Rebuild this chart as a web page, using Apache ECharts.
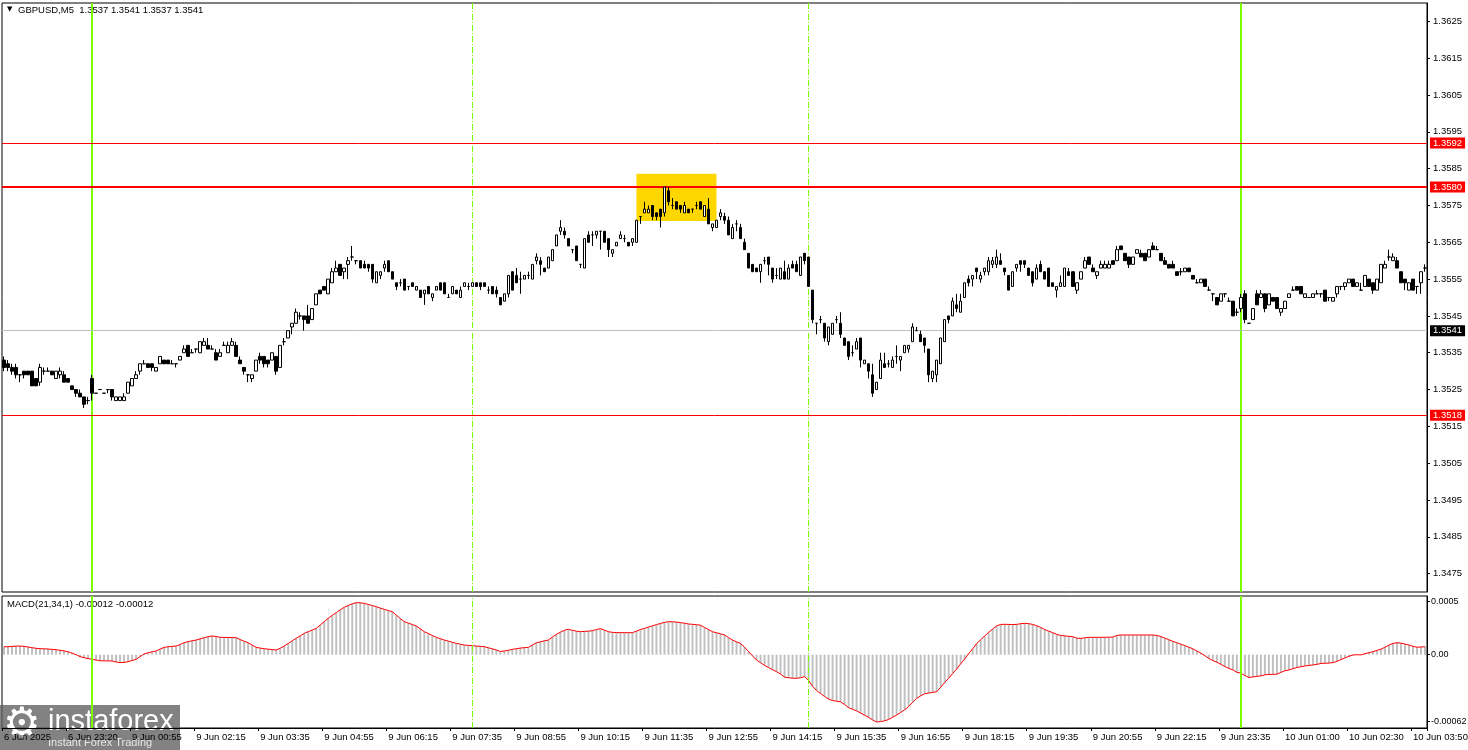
<!DOCTYPE html>
<html><head><meta charset="utf-8">
<script src="https://cdn.jsdelivr.net/npm/echarts@6/dist/echarts.min.js"></script>
<style>html,body{margin:0;padding:0;background:#fff;}#c{width:1468px;height:750px;}</style>
</head><body><div id="c"></div>
<script>
// GBPUSD M5 candles: [open, close, low, high]
const ohlc = [
[1.3533,1.3531,1.3530,1.3534],[1.3532,1.3531,1.3530,1.3533],[1.3531,1.3530,1.3529,1.3532],[1.3531,1.3529,1.3528,1.3532],[1.3529,1.3529,1.3527,1.3529],[1.3530,1.3529,1.3528,1.3530],[1.3530,1.3529,1.3529,1.3530],[1.3530,1.3526,1.3526,1.3530],[1.3528,1.3526,1.3526,1.3528],[1.3527,1.3531,1.3526,1.3532],
[1.3530,1.3530,1.3529,1.3531],[1.3530,1.3530,1.3530,1.3531],[1.3530,1.3529,1.3529,1.3530],[1.3528,1.3530,1.3528,1.3530],[1.3529,1.3530,1.3528,1.3531],[1.3529,1.3527,1.3527,1.3530],[1.3528,1.3527,1.3527,1.3528],[1.3526,1.3525,1.3525,1.3526],[1.3525,1.3524,1.3523,1.3525],[1.3524,1.3523,1.3523,1.3525],
[1.3523,1.3521,1.3520,1.3523],[1.3522,1.3522,1.3521,1.3523],[1.3528,1.3524,1.3522,1.3529],[1.3524,1.3524,1.3524,1.3524],[1.3525,1.3525,1.3525,1.3525],[1.3524,1.3524,1.3524,1.3524],[1.3525,1.3525,1.3524,1.3525],[1.3525,1.3523,1.3522,1.3525],[1.3522,1.3523,1.3522,1.3523],[1.3522,1.3523,1.3522,1.3523],
[1.3522,1.3523,1.3522,1.3524],[1.3524,1.3527,1.3524,1.3527],[1.3526,1.3528,1.3526,1.3528],[1.3528,1.3529,1.3528,1.3530],[1.3530,1.3532,1.3529,1.3532],[1.3532,1.3532,1.3532,1.3533],[1.3532,1.3531,1.3531,1.3532],[1.3532,1.3531,1.3530,1.3532],[1.3530,1.3531,1.3530,1.3531],[1.3532,1.3534,1.3532,1.3534],
[1.3533,1.3532,1.3532,1.3533],[1.3533,1.3532,1.3532,1.3533],[1.3532,1.3532,1.3532,1.3533],[1.3532,1.3532,1.3531,1.3532],[1.3533,1.3534,1.3533,1.3534],[1.3535,1.3536,1.3535,1.3537],[1.3537,1.3534,1.3534,1.3537],[1.3535,1.3535,1.3535,1.3536],[1.3536,1.3536,1.3535,1.3536],[1.3535,1.3538,1.3535,1.3538],
[1.3537,1.3538,1.3537,1.3539],[1.3537,1.3536,1.3536,1.3539],[1.3536,1.3536,1.3536,1.3537],[1.3535,1.3533,1.3533,1.3536],[1.3534,1.3535,1.3534,1.3536],[1.3537,1.3537,1.3537,1.3538],[1.3535,1.3537,1.3535,1.3538],[1.3537,1.3538,1.3537,1.3539],[1.3537,1.3534,1.3534,1.3538],[1.3533,1.3532,1.3532,1.3534],
[1.3531,1.3530,1.3529,1.3531],[1.3529,1.3529,1.3527,1.3529],[1.3528,1.3529,1.3527,1.3529],[1.3530,1.3533,1.3530,1.3533],[1.3534,1.3533,1.3532,1.3535],[1.3534,1.3532,1.3531,1.3534],[1.3533,1.3532,1.3531,1.3533],[1.3533,1.3535,1.3533,1.3535],[1.3534,1.3530,1.3529,1.3534],[1.3531,1.3537,1.3531,1.3537],
[1.3538,1.3538,1.3537,1.3539],[1.3539,1.3541,1.3539,1.3541],[1.3542,1.3543,1.3540,1.3543],[1.3543,1.3546,1.3543,1.3547],[1.3545,1.3545,1.3544,1.3546],[1.3545,1.3544,1.3541,1.3545],[1.3545,1.3543,1.3543,1.3548],[1.3544,1.3547,1.3544,1.3547],[1.3548,1.3551,1.3548,1.3551],[1.3552,1.3551,1.3551,1.3552],
[1.3553,1.3552,1.3552,1.3553],[1.3551,1.3555,1.3551,1.3555],[1.3554,1.3557,1.3554,1.3558],[1.3557,1.3558,1.3557,1.3560],[1.3559,1.3556,1.3556,1.3559],[1.3557,1.3558,1.3555,1.3558],[1.3559,1.3560,1.3555,1.3561],[1.3561,1.3561,1.3560,1.3564],[1.3560,1.3560,1.3559,1.3560],[1.3560,1.3558,1.3558,1.3560],
[1.3559,1.3558,1.3558,1.3560],[1.3559,1.3558,1.3557,1.3559],[1.3559,1.3555,1.3554,1.3559],[1.3554,1.3557,1.3554,1.3557],[1.3556,1.3557,1.3555,1.3557],[1.3558,1.3559,1.3557,1.3560],[1.3560,1.3557,1.3557,1.3560],[1.3557,1.3555,1.3555,1.3557],[1.3554,1.3553,1.3552,1.3554],[1.3554,1.3554,1.3553,1.3555],
[1.3555,1.3552,1.3552,1.3555],[1.3553,1.3553,1.3552,1.3553],[1.3554,1.3553,1.3553,1.3554],[1.3552,1.3553,1.3552,1.3553],[1.3552,1.3550,1.3550,1.3552],[1.3551,1.3552,1.3548,1.3552],[1.3553,1.3551,1.3551,1.3553],[1.3550,1.3551,1.3549,1.3551],[1.3552,1.3553,1.3552,1.3553],[1.3554,1.3552,1.3552,1.3554],
[1.3554,1.3551,1.3551,1.3554],[1.3550,1.3550,1.3550,1.3551],[1.3551,1.3553,1.3551,1.3553],[1.3552,1.3551,1.3551,1.3552],[1.3550,1.3552,1.3550,1.3553],[1.3553,1.3554,1.3553,1.3554],[1.3553,1.3553,1.3552,1.3554],[1.3553,1.3554,1.3553,1.3554],[1.3554,1.3553,1.3553,1.3554],[1.3554,1.3553,1.3552,1.3554],
[1.3554,1.3553,1.3553,1.3554],[1.3552,1.3552,1.3551,1.3553],[1.3553,1.3551,1.3551,1.3553],[1.3552,1.3551,1.3550,1.3553],[1.3550,1.3548,1.3548,1.3550],[1.3549,1.3551,1.3549,1.3551],[1.3551,1.3556,1.3550,1.3556],[1.3557,1.3552,1.3552,1.3557],[1.3556,1.3554,1.3554,1.3558],[1.3555,1.3555,1.3551,1.3557],
[1.3555,1.3556,1.3555,1.3556],[1.3556,1.3556,1.3555,1.3557],[1.3555,1.3559,1.3555,1.3559],[1.3560,1.3561,1.3559,1.3562],[1.3560,1.3559,1.3556,1.3561],[1.3558,1.3557,1.3557,1.3558],[1.3558,1.3561,1.3558,1.3561],[1.3560,1.3563,1.3560,1.3563],[1.3564,1.3567,1.3564,1.3567],[1.3568,1.3569,1.3567,1.3571],
[1.3568,1.3567,1.3566,1.3569],[1.3566,1.3564,1.3564,1.3566],[1.3563,1.3563,1.3562,1.3563],[1.3564,1.3560,1.3560,1.3564],[1.3559,1.3559,1.3558,1.3559],[1.3558,1.3566,1.3558,1.3566],[1.3567,1.3565,1.3565,1.3568],[1.3567,1.3567,1.3564,1.3568],[1.3567,1.3568,1.3566,1.3568],[1.3568,1.3568,1.3563,1.3568],
[1.3568,1.3565,1.3565,1.3568],[1.3566,1.3563,1.3561,1.3566],[1.3562,1.3563,1.3561,1.3563],[1.3564,1.3565,1.3564,1.3565],[1.3566,1.3567,1.3566,1.3568],[1.3566,1.3566,1.3565,1.3567],[1.3565,1.3564,1.3564,1.3565],[1.3565,1.3566,1.3564,1.3566],[1.3565,1.3571,1.3565,1.3571],[1.3572,1.3572,1.3570,1.3572],
[1.3573,1.3574,1.3573,1.3576],[1.3573,1.3574,1.3573,1.3575],[1.3575,1.3572,1.3571,1.3575],[1.3573,1.3572,1.3571,1.3573],[1.3574,1.3572,1.3569,1.3574],[1.3573,1.3580,1.3572,1.3580],[1.3579,1.3576,1.3575,1.3580],[1.3575,1.3575,1.3574,1.3577],[1.3576,1.3574,1.3574,1.3576],[1.3575,1.3574,1.3573,1.3575],
[1.3573,1.3575,1.3573,1.3576],[1.3574,1.3573,1.3573,1.3574],[1.3574,1.3574,1.3573,1.3574],[1.3575,1.3575,1.3574,1.3576],[1.3576,1.3574,1.3574,1.3576],[1.3572,1.3575,1.3572,1.3575],[1.3574,1.3570,1.3570,1.3577],[1.3569,1.3570,1.3568,1.3570],[1.3569,1.3571,1.3569,1.3571],[1.3572,1.3573,1.3571,1.3574],
[1.3572,1.3571,1.3570,1.3573],[1.3571,1.3567,1.3567,1.3572],[1.3566,1.3569,1.3566,1.3570],[1.3570,1.3570,1.3568,1.3571],[1.3569,1.3566,1.3566,1.3570],[1.3565,1.3563,1.3563,1.3566],[1.3562,1.3558,1.3558,1.3562],[1.3559,1.3557,1.3557,1.3559],[1.3558,1.3557,1.3557,1.3558],[1.3557,1.3559,1.3554,1.3559],
[1.3560,1.3560,1.3559,1.3561],[1.3561,1.3559,1.3556,1.3561],[1.3558,1.3555,1.3554,1.3558],[1.3556,1.3556,1.3555,1.3558],[1.3555,1.3558,1.3555,1.3558],[1.3557,1.3555,1.3555,1.3560],[1.3555,1.3558,1.3555,1.3559],[1.3559,1.3558,1.3558,1.3560],[1.3559,1.3557,1.3557,1.3560],[1.3556,1.3561,1.3556,1.3561],
[1.3562,1.3560,1.3559,1.3562],[1.3561,1.3553,1.3553,1.3561],[1.3552,1.3544,1.3543,1.3552],[1.3543,1.3543,1.3540,1.3543],[1.3544,1.3544,1.3543,1.3545],[1.3543,1.3539,1.3538,1.3543],[1.3538,1.3542,1.3537,1.3542],[1.3540,1.3543,1.3540,1.3543],[1.3544,1.3544,1.3543,1.3545],[1.3543,1.3540,1.3539,1.3546],
[1.3539,1.3537,1.3537,1.3539],[1.3538,1.3534,1.3533,1.3538],[1.3535,1.3535,1.3534,1.3537],[1.3536,1.3538,1.3536,1.3539],[1.3539,1.3533,1.3531,1.3539],[1.3532,1.3533,1.3532,1.3533],[1.3532,1.3530,1.3528,1.3532],[1.3529,1.3524,1.3523,1.3532],[1.3525,1.3527,1.3525,1.3527],[1.3528,1.3533,1.3528,1.3535],
[1.3532,1.3531,1.3531,1.3535],[1.3532,1.3532,1.3531,1.3533],[1.3531,1.3533,1.3531,1.3534],[1.3534,1.3534,1.3532,1.3537],[1.3533,1.3534,1.3530,1.3534],[1.3535,1.3537,1.3535,1.3537],[1.3536,1.3537,1.3535,1.3537],[1.3538,1.3542,1.3538,1.3543],[1.3541,1.3541,1.3541,1.3542],[1.3540,1.3538,1.3538,1.3541],
[1.3539,1.3537,1.3535,1.3539],[1.3536,1.3529,1.3527,1.3536],[1.3528,1.3530,1.3527,1.3530],[1.3529,1.3533,1.3527,1.3533],[1.3532,1.3539,1.3532,1.3539],[1.3538,1.3544,1.3538,1.3544],[1.3545,1.3544,1.3543,1.3545],[1.3545,1.3549,1.3545,1.3550],[1.3548,1.3547,1.3546,1.3551],[1.3546,1.3549,1.3546,1.3551],
[1.3550,1.3554,1.3550,1.3554],[1.3555,1.3554,1.3553,1.3556],[1.3555,1.3556,1.3553,1.3556],[1.3558,1.3557,1.3555,1.3558],[1.3555,1.3556,1.3554,1.3557],[1.3557,1.3558,1.3556,1.3558],[1.3557,1.3560,1.3556,1.3561],[1.3559,1.3560,1.3558,1.3561],[1.3559,1.3561,1.3558,1.3563],[1.3560,1.3559,1.3559,1.3562],
[1.3558,1.3557,1.3556,1.3558],[1.3556,1.3552,1.3552,1.3556],[1.3553,1.3557,1.3553,1.3557],[1.3558,1.3559,1.3557,1.3559],[1.3560,1.3559,1.3557,1.3560],[1.3560,1.3559,1.3558,1.3560],[1.3558,1.3556,1.3556,1.3558],[1.3557,1.3554,1.3553,1.3557],[1.3555,1.3558,1.3555,1.3559],[1.3559,1.3557,1.3557,1.3560],
[1.3557,1.3555,1.3555,1.3557],[1.3558,1.3553,1.3553,1.3558],[1.3554,1.3553,1.3553,1.3554],[1.3552,1.3553,1.3550,1.3553],[1.3553,1.3554,1.3553,1.3556],[1.3553,1.3558,1.3553,1.3558],[1.3557,1.3556,1.3556,1.3558],[1.3557,1.3553,1.3553,1.3557],[1.3552,1.3554,1.3551,1.3554],[1.3555,1.3557,1.3555,1.3557],
[1.3558,1.3560,1.3558,1.3561],[1.3561,1.3559,1.3559,1.3561],[1.3558,1.3557,1.3557,1.3559],[1.3556,1.3557,1.3555,1.3557],[1.3558,1.3559,1.3558,1.3560],[1.3558,1.3559,1.3558,1.3560],[1.3558,1.3559,1.3558,1.3560],[1.3560,1.3559,1.3559,1.3560],[1.3560,1.3563,1.3560,1.3564],[1.3564,1.3563,1.3563,1.3564],
[1.3562,1.3560,1.3560,1.3562],[1.3561,1.3559,1.3558,1.3561],[1.3559,1.3561,1.3559,1.3561],[1.3562,1.3563,1.3562,1.3563],[1.3562,1.3561,1.3561,1.3563],[1.3562,1.3560,1.3560,1.3562],[1.3561,1.3563,1.3561,1.3563],[1.3564,1.3563,1.3563,1.3565],[1.3563,1.3563,1.3563,1.3564],[1.3562,1.3560,1.3560,1.3562],
[1.3560,1.3559,1.3559,1.3561],[1.3559,1.3558,1.3558,1.3559],[1.3559,1.3558,1.3558,1.3560],[1.3557,1.3556,1.3556,1.3557],[1.3557,1.3557,1.3556,1.3558],[1.3557,1.3558,1.3557,1.3558],[1.3558,1.3557,1.3557,1.3558],[1.3556,1.3555,1.3555,1.3556],[1.3554,1.3554,1.3554,1.3555],[1.3554,1.3555,1.3554,1.3555],
[1.3555,1.3553,1.3553,1.3555],[1.3552,1.3552,1.3552,1.3553],[1.3551,1.3551,1.3549,1.3551],[1.3550,1.3548,1.3548,1.3550],[1.3549,1.3551,1.3549,1.3551],[1.3551,1.3551,1.3550,1.3551],[1.3549,1.3549,1.3549,1.3550],[1.3549,1.3545,1.3545,1.3549],[1.3546,1.3546,1.3545,1.3547],[1.3547,1.3550,1.3546,1.3551],
[1.3551,1.3544,1.3543,1.3552],[1.3543,1.3543,1.3543,1.3543],[1.3544,1.3547,1.3544,1.3547],[1.3551,1.3548,1.3548,1.3552],[1.3550,1.3551,1.3550,1.3552],[1.3551,1.3547,1.3546,1.3551],[1.3548,1.3551,1.3548,1.3551],[1.3550,1.3549,1.3549,1.3550],[1.3550,1.3547,1.3547,1.3550],[1.3546,1.3547,1.3545,1.3547],
[1.3547,1.3549,1.3547,1.3549],[1.3550,1.3551,1.3550,1.3551],[1.3552,1.3552,1.3552,1.3553],[1.3553,1.3552,1.3552,1.3553],[1.3553,1.3551,1.3551,1.3553],[1.3550,1.3551,1.3550,1.3551],[1.3550,1.3550,1.3550,1.3550],[1.3550,1.3551,1.3550,1.3551],[1.3551,1.3551,1.3551,1.3552],[1.3551,1.3551,1.3550,1.3551],
[1.3552,1.3549,1.3549,1.3552],[1.3550,1.3550,1.3549,1.3550],[1.3549,1.3550,1.3549,1.3550],[1.3551,1.3553,1.3550,1.3553],[1.3553,1.3553,1.3552,1.3553],[1.3553,1.3554,1.3552,1.3554],[1.3554,1.3555,1.3554,1.3555],[1.3555,1.3553,1.3553,1.3555],[1.3553,1.3554,1.3553,1.3554],[1.3552,1.3552,1.3552,1.3554],
[1.3553,1.3556,1.3553,1.3556],[1.3555,1.3553,1.3553,1.3555],[1.3554,1.3552,1.3551,1.3554],[1.3552,1.3555,1.3552,1.3555],[1.3554,1.3559,1.3554,1.3559],[1.3558,1.3559,1.3558,1.3560],[1.3561,1.3561,1.3560,1.3563],[1.3560,1.3561,1.3560,1.3562],[1.3560,1.3558,1.3558,1.3561],[1.3557,1.3554,1.3554,1.3557],
[1.3555,1.3554,1.3552,1.3555],[1.3552,1.3554,1.3552,1.3554],[1.3555,1.3552,1.3552,1.3555],[1.3553,1.3553,1.3551,1.3553],[1.3554,1.3557,1.3551,1.3557],[1.3558,1.3558,1.3557,1.3559]
];
// MACD(21,34,1) histogram / signal values per bar
const macd = [
0.000075,0.000074,0.000078,0.00008,0.000081,0.000078,0.000072,0.000065,0.00006,0.000056,
0.000055,0.000053,0.00005,0.000046,0.000042,0.000035,0.000028,0.000015,0.0,-0.000018,
-0.000028,-0.000036,-0.000043,-0.00005,-0.000056,-0.000057,-0.000058,-0.000059,-0.000068,-0.000074,
-0.000072,-0.000065,-0.000055,-0.000043,-0.000018,0.000007,0.000018,0.000027,0.000035,0.000052,
0.000069,0.000074,0.000078,0.000081,0.000095,0.000112,0.000122,0.00013,0.000137,0.000148,
0.000159,0.000168,0.000175,0.00017,0.000162,0.000162,0.000161,0.00016,0.000159,0.000142,
0.000125,0.000112,0.00009,0.000069,0.000062,0.000056,0.000052,0.000048,0.000044,0.00006,
0.000081,0.000105,0.00013,0.000153,0.000176,0.000199,0.000215,0.00023,0.000246,0.000278,
0.000309,0.00034,0.000368,0.000393,0.00042,0.000443,0.00046,0.000475,0.000486,0.000485,
0.00048,0.00047,0.00046,0.000449,0.000436,0.000424,0.000413,0.000402,0.00037,0.000338,
0.000309,0.000295,0.000282,0.000268,0.000242,0.000215,0.000198,0.00018,0.000162,0.00015,
0.000137,0.000127,0.000116,0.000106,0.000098,0.00009,0.000087,0.000084,0.000081,0.000078,
0.000075,0.000065,0.000055,0.000044,0.00003,0.000035,0.000042,0.00005,0.000056,0.000062,
0.000066,0.000069,0.00009,0.000112,0.00012,0.00013,0.000137,0.000165,0.00019,0.00021,
0.000228,0.000237,0.000228,0.00022,0.000215,0.000218,0.00022,0.000224,0.000235,0.000243,
0.00023,0.000215,0.000209,0.000207,0.000206,0.000206,0.000206,0.000206,0.00022,0.000235,
0.000246,0.000258,0.00027,0.000281,0.000292,0.000302,0.000309,0.000307,0.000305,0.0003,
0.000294,0.000287,0.000284,0.00028,0.000276,0.000255,0.000235,0.000215,0.000205,0.000195,
0.000185,0.00016,0.000137,0.00012,0.000105,0.00007,0.00003,-0.00001,-0.00005,-0.000075,
-0.0001,-0.00012,-0.00014,-0.000159,-0.00018,-0.00021,-0.000215,-0.00022,-0.000221,-0.000215,
-0.000205,-0.00024,-0.000295,-0.000335,-0.000362,-0.00039,-0.000415,-0.000428,-0.000435,-0.00044,
-0.000465,-0.000495,-0.00051,-0.000525,-0.000545,-0.000565,-0.000585,-0.00061,-0.000629,-0.000625,
-0.000618,-0.000605,-0.000585,-0.000564,-0.00054,-0.000515,-0.000485,-0.000445,-0.000408,-0.000385,
-0.000365,-0.000358,-0.000352,-0.000346,-0.000305,-0.00026,-0.00022,-0.000175,-0.000134,-0.000085,
-0.00004,0.00001,0.000055,0.000105,0.00014,0.000175,0.00021,0.00024,0.00027,0.000283,
0.000284,0.000283,0.000282,0.000283,0.00029,0.000293,0.00029,0.000283,0.00027,0.000255,
0.000235,0.00022,0.000206,0.00019,0.00018,0.000176,0.000172,0.000168,0.000155,0.000152,
0.000158,0.000162,0.000162,0.000162,0.000162,0.000163,0.000163,0.000165,0.00018,0.000184,
0.000184,0.000184,0.000184,0.000184,0.000184,0.000184,0.000184,0.000184,0.00018,0.00017,
0.000155,0.00014,0.000125,0.000112,0.000098,0.000085,0.00007,0.000055,0.000035,0.000015,
-0.00001,-0.000035,-0.000055,-0.00007,-0.00009,-0.00011,-0.000128,-0.000142,-0.000165,-0.000172,
-0.000195,-0.000212,-0.000208,-0.000202,-0.000198,-0.000188,-0.000184,-0.000184,-0.000182,-0.000165,
-0.00015,-0.000143,-0.00013,-0.00012,-0.000112,-0.000105,-0.0001,-0.000096,-0.00009,-0.000082,
-0.00008,-0.000078,-0.000074,-0.000062,-0.000045,-0.00003,-0.000015,-0.000003,0.0,-0.000002,
0.00001,0.000019,0.000028,0.00004,0.000052,0.00007,0.00009,0.000105,0.000112,0.000108,
0.0001,0.00009,0.000078,0.00007,0.000072,0.000075
];
const tickIdx = [0,16,32,48,64,80,96,112,128,144,160,176,192,208,224,240,256,272,288,304,320,336,352];
const tickText = ['6 Jun 2025','6 Jun 23:20','9 Jun 00:55','9 Jun 02:15','9 Jun 03:35','9 Jun 04:55','9 Jun 06:15','9 Jun 07:35','9 Jun 08:55','9 Jun 10:15','9 Jun 11:35','9 Jun 12:55','9 Jun 14:15','9 Jun 15:35','9 Jun 16:55','9 Jun 18:15','9 Jun 19:35','9 Jun 20:55','9 Jun 22:15','9 Jun 23:35','10 Jun 01:00','10 Jun 02:30','10 Jun 03:50'];
const priceTicks = [1.3475,1.3485,1.3495,1.3505,1.3515,1.3525,1.3535,1.3545,1.3555,1.3565,1.3575,1.3585,1.3595,1.3605,1.3615,1.3625];
const macdTicks = [0.0005, 0, -0.00062];
const macdTickText = ['0.0005', '0.00', '-0.00062'];
const redLevels = [1.3592, 1.3580, 1.3518];
const redWidths = [1, 2, 1];
const bidPrice = 1.3541;
const solidVLines = [22, 309];
const dashedVLines = [117, 201];
const zoneBars = [158, 178];
const zonePrices = [1.35836, 1.35708];
const header = 'GBPUSD,M5  1.3537 1.3541 1.3537 1.3541';
const macdTitle = 'MACD(21,34,1) -0.00012 -0.00012';

const FONT = '"Liberation Sans", Arial, sans-serif';
const FS = 9.5;
const cats = ohlc.map((_, i) => i);
const isTick = (i) => tickIdx.indexOf(i) >= 0;

const levelLines = redLevels.map((v, k) => ({
  yAxis: v,
  lineStyle: { color: '#ff0000', width: redWidths[k], type: 'solid' },
  label: { show: true, position: 'end', formatter: v.toFixed(4), color: '#fff', backgroundColor: '#ff0000',
           padding: [1, 3, 0, 3], fontSize: FS, fontFamily: FONT, distance: 3 }
}));
levelLines.push({
  yAxis: bidPrice,
  lineStyle: { color: '#c0c0c0', width: 1, type: 'solid' },
  label: { show: true, position: 'end', formatter: bidPrice.toFixed(4), color: '#fff', backgroundColor: '#000',
           padding: [1, 3, 0, 3], fontSize: FS, fontFamily: FONT, distance: 3 }
});
const vLines = solidVLines.map(i => ({ xAxis: i, lineStyle: { color: '#7cfc00', width: 2, type: 'solid' }, label: { show: false } }))
  .concat(dashedVLines.map(i => ({ xAxis: i, lineStyle: { color: '#7cfc00', width: 1, type: [6, 2, 1, 2] }, label: { show: false } })));

const chart = echarts.init(document.getElementById('c'), null, { renderer: 'canvas' });
chart.setOption({
  animation: false,
  backgroundColor: '#ffffff',
  textStyle: { fontFamily: FONT },
  grid: [
    { left: 2, top: 3, width: 1425, height: 589, show: true, borderColor: '#000', borderWidth: 1, backgroundColor: 'transparent', containLabel: false, outerBoundsMode: 'none' },
    { left: 2, top: 596, width: 1425, height: 132, show: true, borderColor: '#000', borderWidth: 1, backgroundColor: 'transparent', containLabel: false, outerBoundsMode: 'none' }
  ],
  xAxis: [
    { type: 'category', gridIndex: 0, data: cats, boundaryGap: true,
      axisLine: { show: false }, axisTick: { show: false }, axisLabel: { show: false }, splitLine: { show: false } },
    { type: 'category', gridIndex: 1, data: cats, boundaryGap: true,
      axisLine: { show: true, onZero: false, lineStyle: { color: '#000' } },
      axisTick: { show: true, interval: (i) => isTick(i), length: 3, lineStyle: { color: '#000' } },
      axisLabel: { show: true, interval: (i) => isTick(i), formatter: (v, i) => tickText[tickIdx.indexOf(Number(v))] || '',
                   align: 'left', margin: 4, color: '#000', fontSize: FS, fontFamily: FONT, hideOverlap: false },
      splitLine: { show: false } }
  ],
  yAxis: [
    { type: 'value', gridIndex: 0, position: 'right', min: 1.3470, max: 1.3630, scale: true,
      axisLine: { show: true, lineStyle: { color: '#000' } },
      axisTick: { show: true, length: 3, customValues: priceTicks, lineStyle: { color: '#000' } },
      axisLabel: { show: true, customValues: priceTicks, formatter: (v) => v.toFixed(4), color: '#000', fontSize: FS, fontFamily: FONT, margin: 6 },
      splitLine: { show: false } },
    { type: 'value', gridIndex: 1, position: 'right', min: -0.000685, max: 0.0005486,
      axisLine: { show: true, lineStyle: { color: '#000' } },
      axisTick: { show: true, length: 3, customValues: macdTicks, lineStyle: { color: '#000' } },
      axisLabel: { show: true, customValues: macdTicks,
                   formatter: (v) => { let k = 0, d = 1; macdTicks.forEach((t, j) => { if (Math.abs(t - v) < d) { d = Math.abs(t - v); k = j; } }); return macdTickText[k]; },
                   color: '#000', fontSize: 9, fontFamily: FONT, margin: 4 },
      splitLine: { show: false } }
  ],
  series: [
    { type: 'line', xAxisIndex: 0, yAxisIndex: 0, data: [], z: 1, silent: true,
      markArea: { silent: true, itemStyle: { color: '#ffd700', opacity: 1 },
        data: [[{ xAxis: zoneBars[0], yAxis: zonePrices[0] }, { xAxis: zoneBars[1], yAxis: zonePrices[1] }]] },
      markLine: { silent: true, symbol: ['none', 'none'], animation: false, data: vLines } },
    { type: 'candlestick', xAxisIndex: 0, yAxisIndex: 0, data: ohlc, z: 5, barWidth: 3,
      itemStyle: { color: '#ffffff', color0: '#000000', borderColor: '#000000', borderColor0: '#000000', borderColorDoji: '#000000', borderWidth: 1 },
      markLine: { silent: true, symbol: ['none', 'none'], animation: false, precision: 4, data: levelLines } },
    { type: 'bar', xAxisIndex: 1, yAxisIndex: 1, data: macd, barWidth: 2, z: 2, silent: true,
      itemStyle: { color: '#c0c0c0' } },
    { type: 'line', xAxisIndex: 1, yAxisIndex: 1, data: macd, z: 4, symbol: 'none', silent: true,
      lineStyle: { color: '#ff0000', width: 1 } },
    { type: 'line', xAxisIndex: 1, yAxisIndex: 1, data: [], z: 3, silent: true,
      markLine: { silent: true, symbol: ['none', 'none'], animation: false, data: vLines } }
  ],
  graphic: [
    { type: 'text', left: 7, top: 6, style: { text: '▼', fontSize: 7, fill: '#000', fontFamily: 'DejaVu Sans' } },
    { type: 'text', left: 18, top: 5, style: { text: header, fontSize: FS, fill: '#000', fontFamily: FONT } },
    { type: 'text', left: 7, top: 599, style: { text: macdTitle, fontSize: FS, fill: '#000', fontFamily: FONT } },
    { type: 'group', left: 0, top: 705, z: 100, children: [
      { type: 'rect', shape: { x: 0, y: 0, width: 180, height: 45 }, style: { fill: 'rgba(95,95,95,0.78)' } },
      { type: 'text', x: 3, y: 0, style: { text: '⚙', fontSize: 42, fill: '#ffffff', fontFamily: 'DejaVu Sans' } },
      { type: 'text', x: 48, y: 2, style: { text: 'instaforex', fontSize: 29, fill: '#ffffff', fontFamily: FONT } },
      { type: 'text', x: 48, y: 32, style: { text: 'Instant Forex Trading', fontSize: 11, fill: '#e8e8e8', fontFamily: FONT } }
    ] }
  ]
});
</script></body></html>
